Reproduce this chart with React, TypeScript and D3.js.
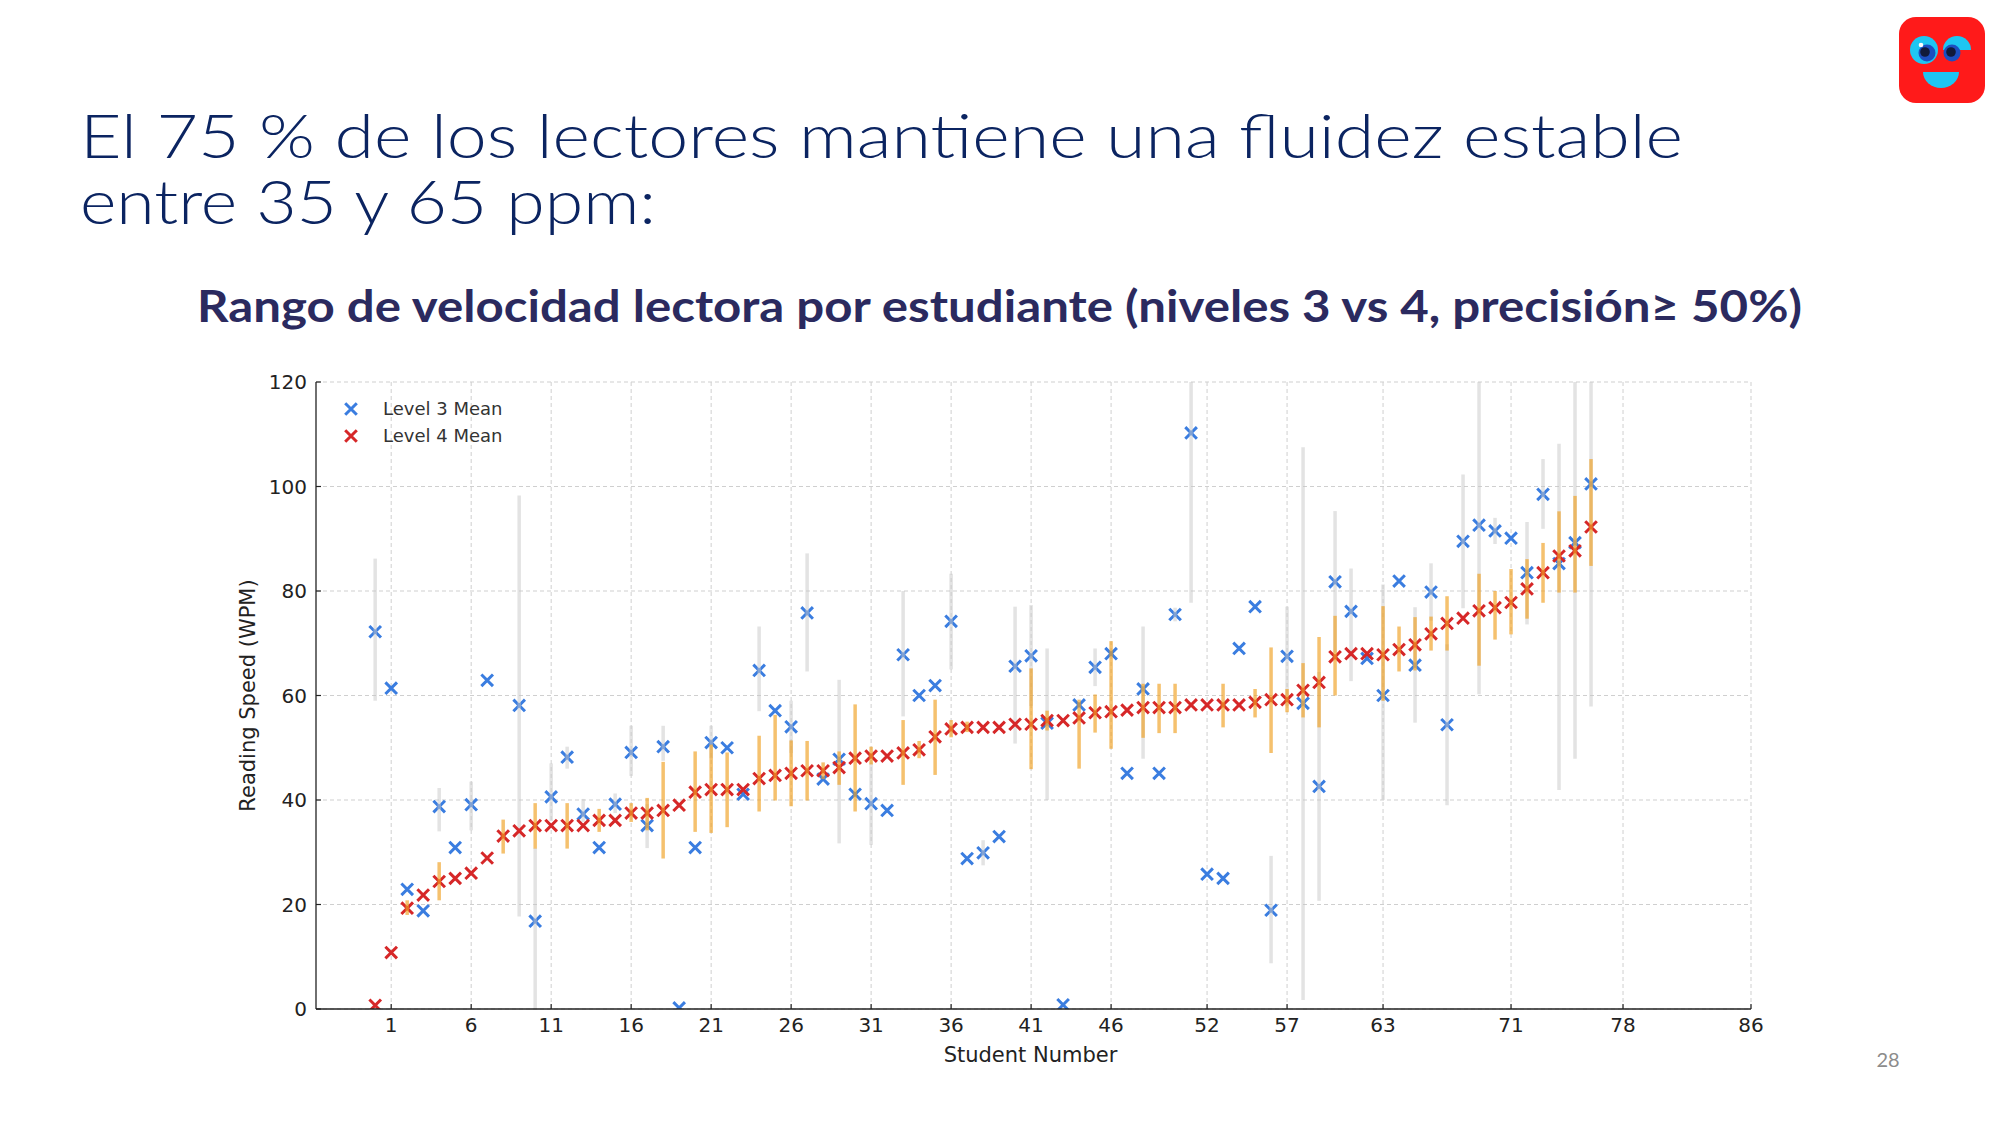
import React from 'react';
import * as d3 from 'd3';

// Per-student means and ranges (index = student number)
const level3Mean: (number | null)[] = [
  72.2, 61.4, 22.9, 18.8, 38.75, 30.9, 39.1, 62.9, null, 58.1,
  16.8, 40.6, 48.2, 37.3, 30.9, 39.2, 49.1, 35.1, 50.2, 0.2,
  30.9, 51, 50, 41.1, 64.8, 57.1, 54, 75.8, 44, 47.8,
  41.1, 39.3, 38, 67.8, 60, 61.9, 74.2, 28.8, 29.9, 33,
  65.6, 67.6, 54.7, 0.8, 58.2, 65.4, 68, 45.1, 61.25, 45.1,
  75.5, 110.25, 25.8, 25, 69, 77, 18.9, 67.5, 58.5, 42.6,
  81.75, 76.1, 67.1, 60, 81.9, 65.8, 79.8, 54.4, 89.5, 92.6,
  91.5, 90.1, 83.5, 98.5, 85.25, 89.25, 100.5,
];

const level3Low: (number | null)[] = [
  59, null, null, null, 34, null, 34.2, null, null, 17.7,
  0, 36, 46, 35.8, null, 37.5, 44.6, 30.8, 47.5, null,
  null, 48, null, null, 57, null, 49, 64.6, null, 31.7,
  null, 31.4, null, 56, null, null, 65, null, 27.5, null,
  50.8, 58, 40, null, null, 61.8, null, null, 47.9, null,
  74.2, 77.75, null, null, null, null, 8.75, 58, 1.7, 20.7,
  68.2, 62.75, null, 40, null, 54.8, 74.3, 39, 76.7, 60.25,
  89, null, 73.6, 91.9, 41.9, 47.9, 57.9,
];

const level3High: (number | null)[] = [
  86.2, null, null, null, 42.3, null, 43.5, null, null, 98.3,
  30.8, 47, 50.2, 40.2, null, 41.25, 54.2, 39.2, 54.2, null,
  null, 54.2, null, null, 73.2, null, 59, 87.2, null, 63,
  null, 47.2, null, 80, null, null, 83.3, null, 32.3, null,
  77, 77.3, 69, null, null, 69, null, null, 73.2, null,
  76.8, 120, null, null, null, null, 29.3, 77, 107.5, 64.5,
  95.3, 84.3, null, 81.25, null, 76.9, 85.3, 69.8, 102.3, 120,
  94, null, 93.2, 105.25, 108.2, 120, 120,
];

const level4Mean: number[] = [
  0.7, 10.8, 19.3, 21.8, 24.4, 25, 26, 28.9, 33.1, 34.1,
  35.1, 35.1, 35.1, 35.1, 36.1, 36.1, 37.5, 37.5, 38, 39,
  41.5, 42, 42, 42, 44.1, 44.7, 45.1, 45.6, 45.6, 46.2,
  48, 48.4, 48.4, 49, 49.6, 52.1, 53.6, 53.9, 53.9, 53.9,
  54.5, 54.5, 55.2, 55.2, 55.7, 56.7, 56.9, 57.2, 57.7, 57.7,
  57.7, 58.2, 58.2, 58.2, 58.2, 58.7, 59.2, 59.2, 61, 62.5,
  67.4, 68, 68, 67.8, 68.8, 69.7, 71.8, 73.8, 74.8, 76.2,
  76.8, 77.8, 80.4, 83.5, 86.7, 87.7, 92.25,
];

const level4Low: (number | null)[] = [
  null, null, 18, null, 20.8, null, null, null, 29.75, null,
  30.7, null, 30.7, null, 33.9, null, 35.8, 34.2, 28.8, null,
  33.9, 33.7, 34.8, null, 37.8, 39.9, 38.8, 39.9, 44, 42.9,
  37.8, 46.8, null, 42.9, 48, 44.8, 52, 53, null, null,
  null, 45.9, 53.3, null, 46, 52.9, 49.8, null, 51.9, 52.8,
  52.8, null, null, 53.9, null, 55.8, 49, 56.8, 55.8, 53.9,
  60, null, null, 59, 64.6, 64.8, 68.6, 68.6, null, 65.7,
  70.7, 71.7, 74.7, 77.75, 79.7, 79.7, 84.8,
];

const level4High: (number | null)[] = [
  null, null, 20.8, null, 28.1, null, null, null, 36.25, null,
  39.4, null, 39.4, null, 38.3, null, 39.4, 40.4, 47.3, null,
  49.3, 50.6, 49.1, null, 52.3, 56.3, 51.4, 51.3, 47.2, 49.3,
  58.3, 50.2, null, 55.3, 51.3, 59.2, 55.3, 55, null, null,
  null, 65.2, 57.1, null, 59.2, 60.2, 70.4, null, 62.25, 62.25,
  62.25, null, null, 62.25, null, 61.25, 69.2, 61.25, 66.2, 71.2,
  75.25, null, null, 77.1, 73.2, 75, 75.1, 79, null, 83.3,
  80, 84.2, 86.1, 89.2, 95.25, 98.2, 105.25,
];

const xTicks = [1, 6, 11, 16, 21, 26, 31, 36, 41, 46, 52, 57, 63, 71, 78, 86];
const yTicks = [0, 20, 40, 60, 80, 100, 120];

const BLUE = '#3a7de0';
const RED = '#d62728';
const AXIS_FONT = '"DejaVu Sans", sans-serif';
const TITLE_FONT = 'Lato, "Open Sans", sans-serif';

function Cross({ cx, cy, color }: { cx: number; cy: number; color: string }) {
  const s = 5.8;
  return (
    <path
      d={`M${cx - s},${cy - s}L${cx + s},${cy + s}M${cx - s},${cy + s}L${cx + s},${cy - s}`}
      stroke={color}
      strokeWidth={3}
      fill="none"
    />
  );
}

function Logo() {
  return (
    <g>
      <rect x={1899} y={17} width={86} height={86} rx={17} fill="#ff1a1a" />
      {/* left eye */}
      <circle cx={1924} cy={50} r={14} fill="#1ec6f2" />
      <circle cx={1927} cy={53} r={8.5} fill="#1c4fc0" />
      <circle cx={1925} cy={52} r={4.8} fill="#111a3a" />
      <circle cx={1921} cy={45} r={2.3} fill="#ffffff" />
      {/* right eye */}
      <path d="M1943,50 A14,14 0 1 1 1971,50 L1957,50 Z" fill="#1ec6f2" />
      <circle cx={1952} cy={53} r={8.5} fill="#1c4fc0" />
      <circle cx={1951} cy={52} r={4.8} fill="#111a3a" />
      {/* mouth */}
      <path d="M1923,72 L1959,72 A18,16 0 0 1 1923,72 Z" fill="#1ec6f2" />
    </g>
  );
}

export default function App() {
  const width = 2000;
  const height = 1125;
  const plot = { left: 316, right: 1751, top: 382, bottom: 1009 };

  const x = d3.scaleLinear().domain([-3.7, 86]).range([plot.left, plot.right]);
  const y = d3.scaleLinear().domain([0, 120]).range([plot.bottom, plot.top]);

  const students = level4Mean.map((_, i) => i);

  return (
    <svg
      width={width}
      height={height}
      style={{ position: 'fixed', left: 0, top: 0, background: '#ffffff' }}
    >
      <rect width={width} height={height} fill="#ffffff" />

      {/* slide header */}
      <text x={80} y={158} fill="#0b2461" fontFamily={TITLE_FONT} fontWeight={300} fontSize={62}
        textLength={1603} lengthAdjust="spacingAndGlyphs">
        El 75 % de los lectores mantiene una fluidez estable
      </text>
      <text x={80} y={224} fill="#0b2461" fontFamily={TITLE_FONT} fontWeight={300} fontSize={62}
        textLength={576} lengthAdjust="spacingAndGlyphs">
        entre 35 y 65 ppm:
      </text>
      <text x={197} y={322} fill="#2b2a5f" fontFamily={TITLE_FONT} fontWeight="bold"
        fontSize={44} textLength={1605} lengthAdjust="spacingAndGlyphs">
        Rango de velocidad lectora por estudiante (niveles 3 vs 4, precisión≥ 50%)
      </text>
      <Logo />
      <text x={1888} y={1067} fill="#8c8c8c" fontFamily={TITLE_FONT} fontSize={20} textAnchor="middle">
        28
      </text>

      <defs>
        <clipPath id="plot-clip">
          <rect x={plot.left} y={plot.top} width={plot.right - plot.left} height={plot.bottom - plot.top} />
        </clipPath>
      </defs>

      {/* grid */}
      <g stroke="#cfcfcf" strokeWidth={1} strokeDasharray="4,3">
        {yTicks.map(t => (
          <line key={`gy${t}`} x1={plot.left} x2={plot.right} y1={y(t)} y2={y(t)} />
        ))}
        {xTicks.map(t => (
          <line key={`gx${t}`} x1={x(t)} x2={x(t)} y1={plot.top} y2={plot.bottom} />
        ))}
      </g>

      <g clipPath="url(#plot-clip)">
        {/* level 3 */}
        {students.map(i =>
          level3Mean[i] == null ? null : (
            <Cross key={`m3${i}`} cx={x(i)} cy={y(level3Mean[i] as number)} color={BLUE} />
          )
        )}
        {students.map(i =>
          level3Low[i] == null ? null : (
            <line key={`e3${i}`} x1={x(i)} x2={x(i)} y1={y(level3Low[i] as number)} y2={y(level3High[i] as number)}
              stroke="#c8c8c8" strokeOpacity={0.5} strokeWidth={3.5} />
          )
        )}
        {/* level 4 */}
        {students.map(i => (
          <Cross key={`m4${i}`} cx={x(i)} cy={y(level4Mean[i])} color={RED} />
        ))}
        {students.map(i =>
          level4Low[i] == null ? null : (
            <line key={`e4${i}`} x1={x(i)} x2={x(i)} y1={y(level4Low[i] as number)} y2={y(level4High[i] as number)}
              stroke="#f0a020" strokeOpacity={0.65} strokeWidth={3.5} />
          )
        )}
      </g>

      {/* axes */}
      <g fontFamily={AXIS_FONT} fill="#222">
        <line x1={plot.left} x2={plot.left} y1={plot.top} y2={plot.bottom} stroke="#222" strokeWidth={1.3} />
        <line x1={plot.left} x2={plot.right} y1={plot.bottom} y2={plot.bottom} stroke="#222" strokeWidth={1.3} />
        {yTicks.map(t => (
          <g key={`ty${t}`}>
            <line x1={plot.left} x2={plot.left + 5} y1={y(t)} y2={y(t)} stroke="#222" strokeWidth={1.2} />
            <text x={plot.left - 9} y={y(t)} dy="0.35em" textAnchor="end" fontSize={20}>{t}</text>
          </g>
        ))}
        {xTicks.map(t => (
          <g key={`tx${t}`}>
            <line x1={x(t)} x2={x(t)} y1={plot.bottom} y2={plot.bottom - 5} stroke="#222" strokeWidth={1.2} />
            <text x={x(t)} y={plot.bottom + 23} textAnchor="middle" fontSize={20}>{t}</text>
          </g>
        ))}
        <text x={(plot.left + plot.right) / 2 - 3} y={1062} textAnchor="middle" fontSize={21}>
          Student Number
        </text>
        <text transform={`translate(255,${(plot.top + plot.bottom) / 2}) rotate(-90)`} textAnchor="middle" fontSize={21}>
          Reading Speed (WPM)
        </text>
      </g>

      {/* legend */}
      <g fontFamily={AXIS_FONT} fontSize={18} fill="#333">
        <Cross cx={351} cy={409} color={BLUE} />
        <text x={383} y={409} dy="0.35em">Level 3 Mean</text>
        <Cross cx={351} cy={436} color={RED} />
        <text x={383} y={436} dy="0.35em">Level 4 Mean</text>
      </g>
    </svg>
  );
}
